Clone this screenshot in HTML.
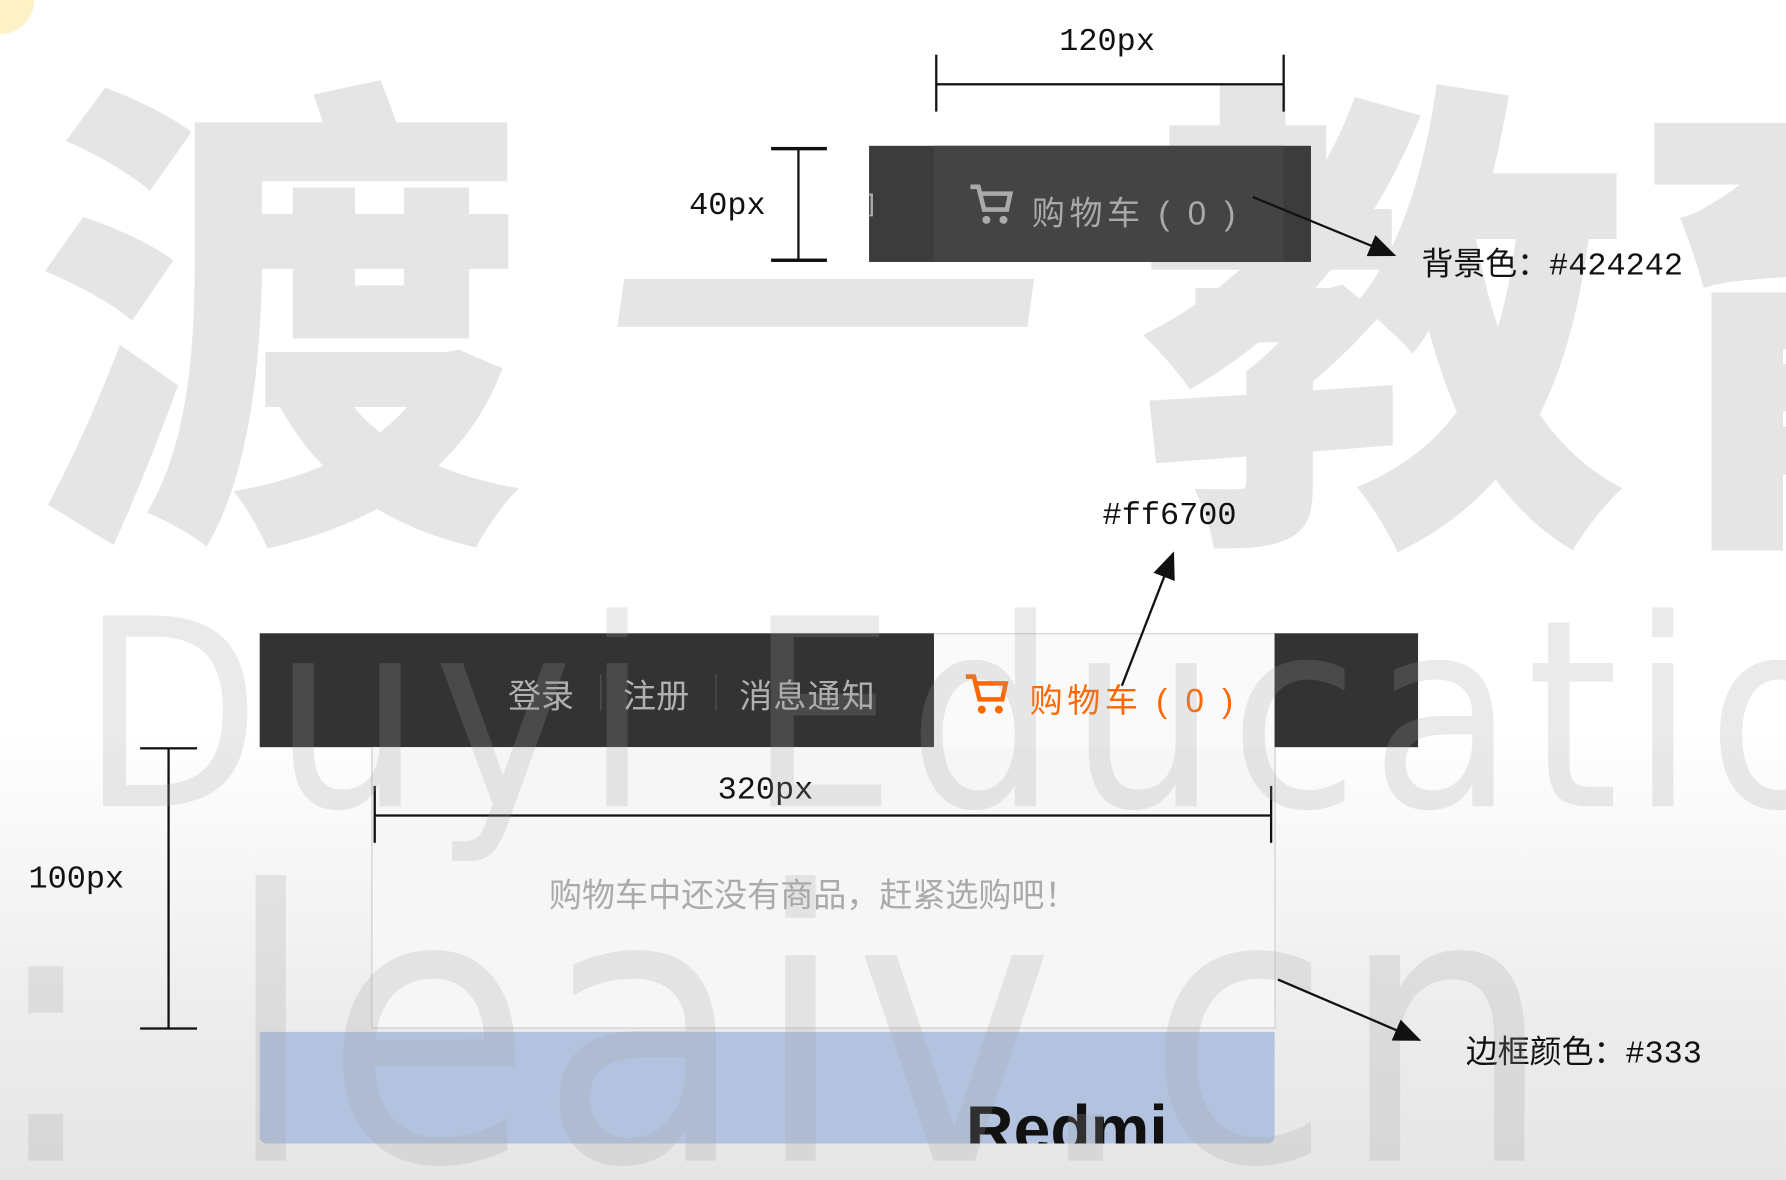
<!DOCTYPE html>
<html><head><meta charset="utf-8"><style>
html,body{margin:0;padding:0;width:1786px;height:1180px;overflow:hidden;background:#fff;}
#w{position:absolute;left:0;top:0;width:1568px;height:1036px;transform:scale(1.1390);transform-origin:0 0;overflow:hidden;
background:linear-gradient(to bottom,#fff 0,#fff 640px,#ececec 900px,#e6e6e6 1036px);
font-family:"Liberation Sans","Noto Sans CJK SC",sans-serif;}
.a{position:absolute;}
.wm{position:absolute;color:rgba(160,160,160,0.22);font-weight:normal;white-space:nowrap;line-height:1;z-index:5;pointer-events:none;font-family:"DejaVu Sans Condensed","Liberation Sans Narrow","Liberation Sans",sans-serif;}
.mono{font-family:"Liberation Mono","DejaVu Sans Mono",monospace;font-size:28px;color:#111;}
.cn{font-family:"Liberation Sans","Noto Sans CJK SC",sans-serif;}
</style></head><body><div id="w">
<div class="a" style="left:-30px;top:-30px;width:60px;height:60px;border-radius:50%;background:#fdf1c8"></div>
<div class="wm cn" style="left:30px;top:40px;font-size:430px;color:#e5e5e5;z-index:0;font-family:'Noto Sans CJK SC',sans-serif;font-weight:900;">渡</div>
<div class="a" style="left:545px;top:245px;width:360px;height:42px;background:#e5e5e5;transform:skewX(-8deg)"></div>
<div class="wm cn" style="left:1000px;top:40px;font-size:430px;color:#e5e5e5;z-index:0;font-family:'Noto Sans CJK SC',sans-serif;font-weight:900;">教育</div>

<div class="a" style="left:763px;top:128px;width:388px;height:102px;background:#3c3c3c"></div>
<div class="a" style="left:820px;top:128px;width:307px;height:102px;background:#444"></div>
<div class="a" style="left:763px;top:160px;width:6px;height:30px;overflow:hidden"><div class="cn" style="margin-left:-22px;font-size:28px;color:#aaa">知</div></div>
<svg class="a" style="left:850px;top:160px" width="42" height="40" viewBox="0 0 42 40"><path d="M2 4h7l5 20h20l3-14H12" fill="none" stroke="#aaa" stroke-width="4"/><circle cx="16" cy="33" r="3.5" fill="#aaa"/><circle cx="31" cy="33" r="3.5" fill="#aaa"/></svg>
<div class="a cn" style="left:906px;top:164px;font-size:29px;color:#aaa;letter-spacing:4px">购物车 ( 0 )</div>

<div class="a mono" style="left:930px;top:22px">120px</div>
<div class="a" style="left:822px;top:73px;width:305px;height:2px;background:#111"></div>
<div class="a" style="left:821px;top:48px;width:2px;height:50px;background:#111"></div>
<div class="a" style="left:1126px;top:48px;width:2px;height:50px;background:#111"></div>
<div class="a mono" style="left:605px;top:166px">40px</div>
<div class="a" style="left:700px;top:130px;width:2px;height:98px;background:#111"></div>
<div class="a" style="left:677px;top:129px;width:49px;height:3px;background:#111"></div>
<div class="a" style="left:677px;top:227px;width:49px;height:3px;background:#111"></div>
<div class="a cn" style="left:1248px;top:210px;font-size:28px;color:#111">背景色：<span style="font-family:'Liberation Mono',monospace">#424242</span></div>
<div class="a mono" style="left:968px;top:438px">#ff6700</div>
<div class="a cn" style="left:1287px;top:902px;font-size:28px;color:#111">边框颜色：<span style="font-family:'Liberation Mono',monospace">#333</span></div>

<div class="a" style="left:228px;top:556px;width:1017px;height:100px;background:#333"></div>
<div class="a" style="left:820px;top:556px;width:299px;height:100px;background:#fafafa;border-top:1px solid #ddd"></div>
<div class="a cn" style="left:446px;top:588px;font-size:29px;color:#b0b0b0">登录</div>
<div class="a" style="left:527px;top:592px;width:1px;height:32px;background:#555"></div>
<div class="a cn" style="left:547px;top:588px;font-size:29px;color:#b0b0b0">注册</div>
<div class="a" style="left:628px;top:592px;width:1px;height:32px;background:#555"></div>
<div class="a cn" style="left:649px;top:588px;font-size:29px;color:#b0b0b0;letter-spacing:1px">消息通知</div>
<svg class="a" style="left:846px;top:590px" width="42" height="40" viewBox="0 0 42 40"><path d="M2 4h7l5 20h20l3-14H12" fill="none" stroke="#ff6700" stroke-width="4"/><circle cx="16" cy="33" r="3.5" fill="#ff6700"/><circle cx="31" cy="33" r="3.5" fill="#ff6700"/></svg>
<div class="a cn" style="left:904px;top:592px;font-size:29px;color:#ff6700;letter-spacing:4px">购物车 ( 0 )</div>

<div class="a" style="left:326px;top:656px;width:792px;height:246px;background:#f6f6f6;border:1px solid #ccc;border-top:none"></div>
<div class="a cn" style="left:482px;top:763px;font-size:29px;color:#aaa">购物车中还没有商品，赶紧选购吧！</div>
<div class="a mono" style="left:630px;top:679px">320px</div>
<div class="a" style="left:329px;top:715px;width:787px;height:2px;background:#111"></div>
<div class="a" style="left:328px;top:690px;width:2px;height:50px;background:#111"></div>
<div class="a" style="left:1115px;top:690px;width:2px;height:50px;background:#111"></div>
<div class="a mono" style="left:25px;top:757px">100px</div>
<div class="a" style="left:147px;top:657px;width:2px;height:246px;background:#111"></div>
<div class="a" style="left:123px;top:656px;width:50px;height:2px;background:#111"></div>
<div class="a" style="left:123px;top:902px;width:50px;height:2px;background:#111"></div>

<div class="a" style="left:228px;top:906px;width:891px;height:98px;background:#b3c3df;border-radius:0 0 6px 6px;overflow:hidden">
<div class="a" style="left:620px;top:52px;font-size:58px;font-weight:bold;color:#111;font-family:'Liberation Sans',sans-serif">Redmi</div></div>

<svg class="a" style="left:0;top:0;z-index:6" width="1568" height="1036">
<defs><marker id="m2" markerWidth="24" markerHeight="20" refX="22" refY="10" orient="auto" markerUnits="userSpaceOnUse"><path d="M0 0L24 10L0 20z" fill="#111"/></marker></defs>
<line x1="1100" y1="173" x2="1224" y2="224" stroke="#111" stroke-width="2" marker-end="url(#m2)"/>
<line x1="1122" y1="860" x2="1246" y2="913" stroke="#111" stroke-width="2" marker-end="url(#m2)"/>
<line x1="985" y1="602" x2="1030" y2="486" stroke="#111" stroke-width="2" marker-end="url(#m2)"/>
</svg>

<div class="wm" style="left:70px;top:515px;font-size:230px;letter-spacing:10px">Duyi Education</div>
<div class="wm" style="left:-10px;top:740px;font-size:330px;letter-spacing:6px">: leaiv.cn</div>
</div></body></html>
